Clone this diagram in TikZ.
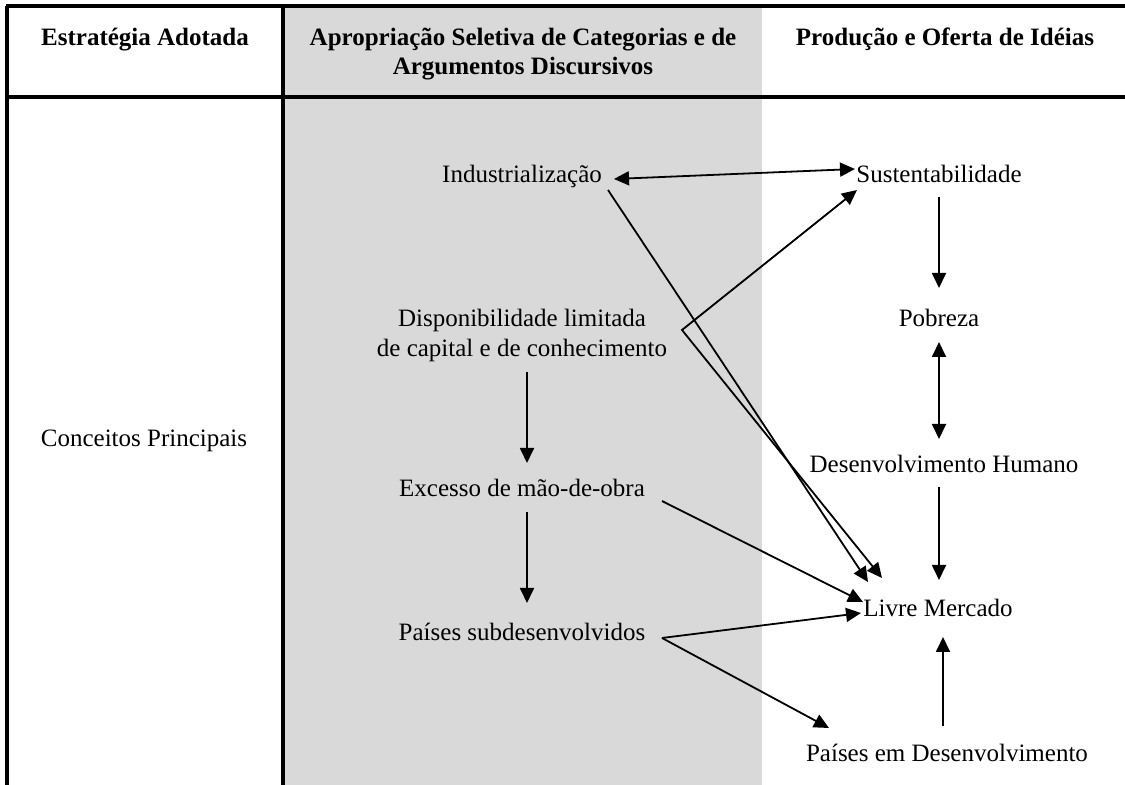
\documentclass[tikz,border=0pt]{standalone}
\usepackage{fontspec}
\setmainfont{Liberation Serif}
\usetikzlibrary{arrows.meta,calc}
\definecolor{colgray}{RGB}{217,217,217}
\tikzset{
  lbl/.style={inner sep=0pt, text height=9pt, text depth=3pt, font=\fontsize{12.5}{15}\selectfont},
  hdr/.style={lbl, font=\fontsize{12.5}{14.5}\selectfont\bfseries, align=center},
  rule/.style={line width=1.6pt},
  tip/.tip={Triangle[length=7.5pt,width=7pt]},
  arr/.style={line width=0.9pt, -tip},
  darr/.style={line width=0.9pt, tip-tip}
}
\begin{document}
\begin{tikzpicture}[x=0.5pt,y=-0.5pt]
\useasboundingbox (0,0) rectangle (1125,785);
% gray column
\fill[colgray] (285,6) rectangle (762,785);
% table rules
\draw[rule] (6,6) -- (1125,6);
\draw[rule] (6,97) -- (1125,97);
\draw[rule] (7,6) -- (7,785);
\draw[rule] (283,6) -- (283,785);
% headers
\node[hdr] (h1) at (145,40) {Estratégia Adotada};
\node[hdr] (h2) at (523,69) {Apropriação Seletiva de Categorias e de\\Argumentos Discursivos};
\node[hdr] (h3) at (945,40) {Produção e Oferta de Idéias};
% body
\node[lbl] (conc) at (144,441) {Conceitos Principais};
\node[lbl] (ind) at (522,177) {Industrialização};
\node[lbl, align=center] (disp) at (522,351) {Disponibilidade limitada\\de capital e de conhecimento};
\node[lbl] (exc) at (522,491) {Excesso de mão-de-obra};
\node[lbl] (psub) at (522,635) {Países subdesenvolvidos};
\node[lbl] (sus) at (939,177) {Sustentabilidade};
\node[lbl] (pob) at (939,321) {Pobreza};
\node[lbl] (dh) at (944,467) {Desenvolvimento Humano};
\node[lbl] (lm) at (938,611) {Livre Mercado};
\node[lbl] (ped) at (947,756) {Países em Desenvolvimento};
\coordinate (c) at (682,330);
% connectors
\draw[darr] ($(ind)+(92,2)$) -- ($(sus)+(-84,-8)$);
\draw[arr] ($(sus)+(0,20)$) -- ($(pob)+(0,-33)$);
\draw[darr] ($(pob)+(0,21)$) -- ($(dh)+(-5,-28)$);
\draw[arr] ($(dh)+(-5,20)$) -- ($(lm)+(1,-31)$);
\draw[arr] ($(ped)+(-4,-30)$) -- ($(lm)+(5,26)$);
\draw[arr] ($(disp)+(5,21)$) -- ($(exc)+(5,-28)$);
\draw[arr] ($(exc)+(5,21)$) -- ($(psub)+(5,-32)$);
\draw[arr] ($(ind)+(86,13)$) -- ($(lm)+(-70,-29)$);
\draw[darr] ($(lm)+(-56,-33)$) -- (c) -- ($(sus)+(-82,13)$);
\draw[arr] ($(exc)+(140,10)$) -- ($(lm)+(-75,-9)$);
\draw[arr] ($(psub)+(140,3)$) -- ($(lm)+(-77,2)$);
\draw[arr] ($(psub)+(140,3)$) -- ($(ped)+(-118,-28)$);
\end{tikzpicture}
\end{document}
